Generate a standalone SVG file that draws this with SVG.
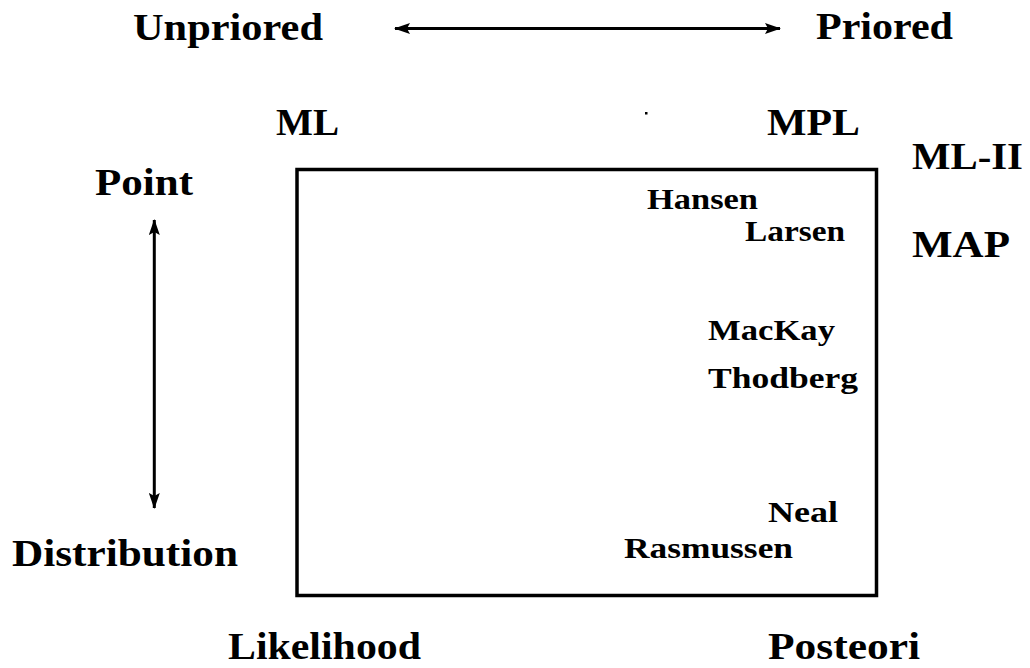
<svg xmlns="http://www.w3.org/2000/svg" width="1030" height="668" viewBox="0 0 1030 668">
<style>
  text { font-family: "Liberation Serif", "Times New Roman", serif; font-weight: bold; fill: #000; }
  .big { font-size: 38px; }
  .small { font-size: 29px; }
  .conn { stroke: #000; stroke-width: 3; fill: none; }
</style>
<defs>
  <marker id="arrow" viewBox="0 0 16 11" refX="15" refY="5.5" markerWidth="16" markerHeight="11" markerUnits="userSpaceOnUse" orient="auto-start-reverse">
    <path d="M0,0 L16,5.5 L0,11 L3,5.5 z" fill="#000"/>
  </marker>
</defs>
<rect width="1030" height="668" fill="#fff"/>
<g id="axis-labels">
  <g id="unpriored"><text class="big" x="133" y="40" textLength="190" lengthAdjust="spacingAndGlyphs">Unpriored</text></g>
  <g id="priored"><text class="big" x="816" y="39" textLength="137" lengthAdjust="spacingAndGlyphs">Priored</text></g>
  <g id="ml"><text class="big" x="276" y="135" textLength="63" lengthAdjust="spacingAndGlyphs">ML</text></g>
  <g id="mpl"><text class="big" x="767" y="135" textLength="93" lengthAdjust="spacingAndGlyphs">MPL</text></g>
  <g id="ml-ii"><text class="big" x="912" y="169" textLength="111" lengthAdjust="spacingAndGlyphs">ML-II</text></g>
  <g id="map"><text class="big" x="912" y="257" textLength="98" lengthAdjust="spacingAndGlyphs">MAP</text></g>
  <g id="point"><text class="big" x="95" y="195" textLength="98" lengthAdjust="spacingAndGlyphs">Point</text></g>
  <g id="distribution"><text class="big" x="12" y="566" textLength="226" lengthAdjust="spacingAndGlyphs">Distribution</text></g>
  <g id="likelihood"><text class="big" x="228" y="659" textLength="193" lengthAdjust="spacingAndGlyphs">Likelihood</text></g>
  <g id="posteori"><text class="big" x="768" y="659" textLength="152" lengthAdjust="spacingAndGlyphs">Posteori</text></g>
</g>
<g id="dot"><rect x="645" y="112" width="2.5" height="2.5" fill="#000"/></g>
<g id="box">
  <rect x="297" y="169.5" width="579.5" height="426" fill="none" stroke="#000" stroke-width="3.5"/>
</g>
<g id="authors">
  <g id="hansen"><text class="small" x="647" y="209" textLength="111" lengthAdjust="spacingAndGlyphs">Hansen</text></g>
  <g id="larsen"><text class="small" x="745" y="241" textLength="100" lengthAdjust="spacingAndGlyphs">Larsen</text></g>
  <g id="mackay"><text class="small" x="708" y="340" textLength="127" lengthAdjust="spacingAndGlyphs">MacKay</text></g>
  <g id="thodberg"><text class="small" x="708" y="388" textLength="150" lengthAdjust="spacingAndGlyphs">Thodberg</text></g>
  <g id="neal"><text class="small" x="768" y="522" textLength="70" lengthAdjust="spacingAndGlyphs">Neal</text></g>
  <g id="rasmussen"><text class="small" x="624" y="558" textLength="169" lengthAdjust="spacingAndGlyphs">Rasmussen</text></g>
</g>
<g id="connectors">
  <line class="conn" x1="395" y1="28.5" x2="780" y2="28.5" marker-start="url(#arrow)" marker-end="url(#arrow)"/>
  <line class="conn" x1="154.3" y1="220" x2="154.3" y2="508" marker-start="url(#arrow)" marker-end="url(#arrow)"/>
</g>
</svg>
